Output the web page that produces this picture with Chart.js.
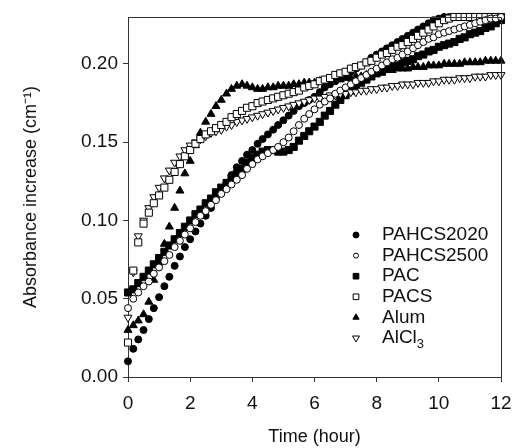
<!DOCTYPE html>
<html>
<head>
<meta charset="utf-8">
<script src="https://cdn.jsdelivr.net/npm/chart.js@4/dist/chart.umd.min.js"></script>
<style>
  html, body { margin: 0; padding: 0; background: #fff; }
  #wrap { width: 522px; height: 448px; }
</style>
</head>
<body>
<div id="wrap"><canvas id="grafico" width="522" height="448"></canvas></div>
<script>
// tiempo (h), un punto cada 10 min
const times = [
  0, 0.17, 0.33, 0.5, 0.67, 0.83,
  1, 1.17, 1.33, 1.5, 1.67, 1.83,
  2, 2.17, 2.33, 2.5, 2.67, 2.83,
  3, 3.17, 3.33, 3.5, 3.67, 3.83,
  4, 4.17, 4.33, 4.5, 4.67, 4.83,
  5, 5.17, 5.33, 5.5, 5.67, 5.83,
  6, 6.17, 6.33, 6.5, 6.67, 6.83,
  7, 7.17, 7.33, 7.5, 7.67, 7.83,
  8, 8.17, 8.33, 8.5, 8.67, 8.83,
  9, 9.17, 9.33, 9.5, 9.67, 9.83,
  10, 10.17, 10.33, 10.5, 10.67, 10.83,
  11, 11.17, 11.33, 11.5, 11.67, 11.83,
  12
];

const pahcs2020 = [
  0.010, 0.018, 0.024, 0.030, 0.037, 0.044,
  0.051, 0.058, 0.064, 0.071, 0.077, 0.083,
  0.088, 0.093, 0.098, 0.103, 0.108, 0.114,
  0.119, 0.124, 0.129, 0.134, 0.138, 0.142,
  0.145, 0.149, 0.152, 0.155, 0.158, 0.161,
  0.164, 0.167, 0.170, 0.173, 0.175, 0.177,
  0.179, 0.182, 0.185, 0.187, 0.189, 0.191,
  0.193, 0.195, 0.197, 0.199, 0.201, 0.204,
  0.206, 0.208, 0.210, 0.212, 0.214, 0.216,
  0.218, 0.220, 0.222, 0.224, 0.226, 0.228,
  0.229, 0.230, 0.230, 0.230, 0.230, 0.230,
  0.230, 0.230, 0.230, 0.230, 0.230, 0.230,
  0.230
];

const pahcs2500 = [
  0.044, 0.050, 0.054, 0.058, 0.061, 0.066,
  0.070, 0.074, 0.078, 0.083, 0.087, 0.091,
  0.095, 0.099, 0.103, 0.106, 0.110, 0.113,
  0.117, 0.120, 0.123, 0.126, 0.129, 0.133,
  0.136, 0.139, 0.141, 0.143, 0.145, 0.147,
  0.150, 0.153, 0.157, 0.161, 0.165, 0.168,
  0.171, 0.174, 0.176, 0.178, 0.181, 0.183,
  0.185, 0.187, 0.189, 0.191, 0.193, 0.195,
  0.197, 0.199, 0.201, 0.203, 0.204, 0.206,
  0.208, 0.210, 0.212, 0.214, 0.216, 0.217,
  0.219, 0.220, 0.221, 0.222, 0.223, 0.224,
  0.225, 0.226, 0.227, 0.228, 0.229, 0.229,
  0.230
];

const pac = [
  0.054, 0.056, 0.060, 0.064, 0.068, 0.072,
  0.076, 0.080, 0.084, 0.088, 0.092, 0.096,
  0.100, 0.104, 0.107, 0.111, 0.114, 0.118,
  0.121, 0.124, 0.127, 0.130, 0.133, 0.137,
  0.140, 0.142, 0.144, 0.145, 0.145, 0.144,
  0.144, 0.145, 0.147, 0.151, 0.154, 0.157,
  0.160, 0.163, 0.167, 0.170, 0.174, 0.177,
  0.180, 0.183, 0.186, 0.188, 0.190, 0.192,
  0.194, 0.195, 0.197, 0.198, 0.199, 0.201,
  0.202, 0.203, 0.205, 0.206, 0.208, 0.209,
  0.211, 0.212, 0.213, 0.214, 0.216, 0.217,
  0.219, 0.220, 0.221, 0.223, 0.224, 0.226,
  0.228
];

const pacs = [
  0.022, 0.068, 0.086, 0.098, 0.105, 0.111,
  0.116, 0.121, 0.126, 0.131, 0.136, 0.141,
  0.145, 0.149, 0.152, 0.155, 0.157, 0.159,
  0.161, 0.163, 0.166, 0.168, 0.170, 0.172,
  0.173, 0.175, 0.176, 0.177, 0.178, 0.179,
  0.180, 0.181, 0.182, 0.183, 0.185, 0.186,
  0.187, 0.189, 0.190, 0.191, 0.193, 0.194,
  0.195, 0.197, 0.198, 0.199, 0.201, 0.202,
  0.204, 0.206, 0.207, 0.209, 0.211, 0.212,
  0.214, 0.216, 0.218, 0.220, 0.222, 0.224,
  0.226, 0.228, 0.229, 0.230, 0.230, 0.230,
  0.230, 0.230, 0.230, 0.230, 0.230, 0.230,
  0.230
];

const alum = [
  0.030, 0.033, 0.036, 0.040, 0.048, 0.062,
  0.073, 0.085, 0.096, 0.108, 0.119, 0.130,
  0.138, 0.148, 0.156, 0.163, 0.168, 0.173,
  0.177, 0.181, 0.184, 0.186, 0.187, 0.186,
  0.185, 0.184, 0.184, 0.185, 0.185, 0.186,
  0.186, 0.186, 0.187, 0.187, 0.188, 0.188,
  0.188, 0.189, 0.189, 0.190, 0.190, 0.190,
  0.191, 0.191, 0.192, 0.192, 0.193, 0.194,
  0.195, 0.195, 0.196, 0.196, 0.197, 0.197,
  0.197, 0.198, 0.198, 0.198, 0.199, 0.199,
  0.199, 0.200, 0.200, 0.200, 0.200, 0.201,
  0.201, 0.201, 0.201, 0.202, 0.202, 0.202,
  0.202
];

const alcl3 = [
  0.038, 0.067, 0.090, 0.100, 0.108, 0.115,
  0.121, 0.127, 0.132, 0.137, 0.141, 0.145,
  0.148, 0.150, 0.152, 0.154, 0.156, 0.157,
  0.158, 0.160, 0.161, 0.163, 0.164, 0.165,
  0.166, 0.167, 0.168, 0.169, 0.170, 0.171,
  0.172, 0.173, 0.174, 0.175, 0.176, 0.177,
  0.178, 0.178, 0.179, 0.180, 0.180, 0.181,
  0.181, 0.182, 0.182, 0.183, 0.183, 0.184,
  0.184, 0.185, 0.185, 0.186, 0.186, 0.187,
  0.187, 0.187, 0.188, 0.188, 0.188, 0.189,
  0.189, 0.190, 0.190, 0.190, 0.191, 0.191,
  0.191, 0.192, 0.192, 0.192, 0.193, 0.193,
  0.193
];

const seriesNames = ['PAHCS2020', 'PAHCS2500', 'PAC', 'PACS', 'Alum', 'AlCl₃'];
const seriesValues = [pahcs2020, pahcs2500, pac, pacs, alum, alcl3];
const xTicks = [0, 2, 4, 6, 8, 10, 12];
const yTicks = [0, 0.05, 0.10, 0.15, 0.20];

// estilo de cada marcador (relleno negro o blanco)
const marcadores = [
  { style: 'circle',   radius: 3.5, rot: 0,   fill: '#000', order: 2, legR: 3 },
  { style: 'circle',   radius: 3.5, rot: 0,   fill: '#fff', order: 0, legR: 2.5 },
  { style: 'rect',     radius: 5,   rot: 0,   fill: '#000', order: 1, legR: 4 },
  { style: 'rect',     radius: 5,   rot: 0,   fill: '#fff', order: 0, legR: 4 },
  { style: 'triangle', radius: 4.6, rot: 0,   fill: '#000', order: 2, legR: 3.6 },
  { style: 'triangle', radius: 4.6, rot: 180, fill: '#fff', order: 0, legR: 4 }
];

const FUENTE = 'Liberation Sans, Arial, sans-serif';

const datasets = seriesNames.map((nombre, i) => ({
  label: nombre,
  data: times.map((t, j) => ({ x: t, y: seriesValues[i][j] })),
  showLine: false,
  pointStyle: marcadores[i].style,
  pointRadius: marcadores[i].radius,
  pointRotation: marcadores[i].rot,
  pointBackgroundColor: marcadores[i].fill,
  pointBorderColor: '#000',
  pointBorderWidth: 1,
  order: marcadores[i].order,
  clip: false
}));

// leyenda dentro del area del grafico + marco
const leyendaYMarco = {
  id: 'leyendaYMarco',
  afterDraw(chart) {
    const ctx = chart.ctx;
    const a = chart.chartArea;
    ctx.save();
    ctx.strokeStyle = '#333';
    ctx.lineWidth = 1;
    ctx.beginPath();
    ctx.moveTo(a.left, a.top + 0.5);
    ctx.lineTo(a.right + 0.5, a.top + 0.5);
    ctx.lineTo(a.right + 0.5, a.bottom);
    ctx.stroke();

    const x0 = 356, xt = 382, y0 = 235, paso = 20.6;
    seriesNames.forEach((nombre, i) => {
      const y = y0 + i * paso;
      const m = marcadores[i];
      ctx.fillStyle = m.fill;
      ctx.strokeStyle = '#000';
      ctx.lineWidth = 1;
      Chart.helpers.drawPoint(ctx, { pointStyle: m.style, radius: m.legR, rotation: m.rot, borderWidth: 1 }, x0, y);

      ctx.fillStyle = '#111';
      ctx.textAlign = 'left';
      ctx.textBaseline = 'middle';
      ctx.font = '19px ' + FUENTE;
      const sub = nombre.match(/^(.*?)([₀-₉]+)$/);
      if (sub) {
        ctx.fillText(sub[1], xt, y);
        const w = ctx.measureText(sub[1]).width;
        const digitos = sub[2].replace(/[₀-₉]/g, c => String(c.charCodeAt(0) - 0x2080));
        ctx.font = '13px ' + FUENTE;
        ctx.fillText(digitos, xt + w, y + 6);
      } else {
        ctx.fillText(nombre, xt, y);
      }
    });
    ctx.restore();
  }
};

new Chart(document.getElementById('grafico'), {
  type: 'scatter',
  data: { datasets },
  options: {
    responsive: false,
    animation: false,
    events: [],
    layout: { padding: { top: 17, right: 21, left: 0, bottom: 0 } },
    plugins: {
      legend: { display: false },
      tooltip: { enabled: false }
    },
    scales: {
      x: {
        type: 'linear',
        min: 0,
        max: 12,
        afterBuildTicks: s => { s.ticks = xTicks.map(v => ({ value: v })); },
        afterFit: s => { s.height = 71; },
        ticks: {
          color: '#111',
          font: { family: FUENTE, size: 19 },
          padding: 10,
          callback: v => String(v)
        },
        grid: { drawOnChartArea: false, drawTicks: true, tickLength: 5, color: '#333' },
        border: { display: true, color: '#333', width: 1 },
        title: {
          display: true,
          text: 'Time (hour)',
          color: '#111',
          font: { family: FUENTE, size: 18 },
          padding: { top: 0, bottom: 0 }
        }
      },
      y: {
        type: 'linear',
        min: 0,
        max: 0.23,
        afterBuildTicks: s => { s.ticks = yTicks.map(v => ({ value: v })); },
        afterFit: s => { s.width = 128; },
        ticks: {
          color: '#111',
          font: { family: FUENTE, size: 19 },
          padding: 5,
          callback: v => Number(v).toFixed(2)
        },
        grid: { drawOnChartArea: false, drawTicks: true, tickLength: 5, color: '#333' },
        border: { display: true, color: '#333', width: 1 },
        title: {
          display: true,
          text: 'Absorbance increase (cm⁻¹)',
          color: '#111',
          font: { family: FUENTE, size: 18 },
          padding: { top: 20, bottom: 0 }
        }
      }
    }
  },
  plugins: [leyendaYMarco]
});
</script>
</body>
</html>
